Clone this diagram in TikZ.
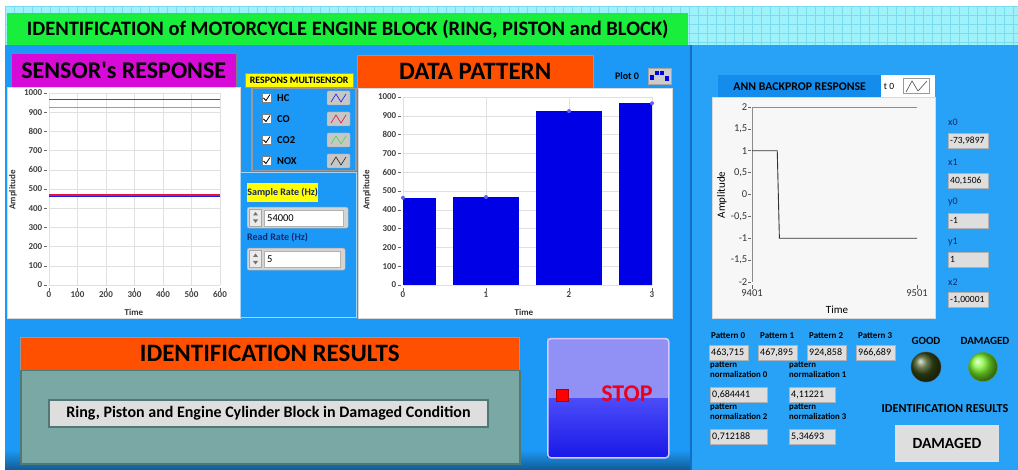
\documentclass[tikz,border=0pt]{standalone}
\usepackage{fontspec}
\setmainfont{Carlito}
\usetikzlibrary{positioning}

\definecolor{titlegreen}{RGB}{25,238,60}
\definecolor{cyanbg}{RGB}{160,242,250}
\definecolor{cyanline}{RGB}{120,220,238}
\definecolor{leftblue}{RGB}{28,152,246}
\definecolor{rightblue}{RGB}{40,162,246}
\definecolor{sepblue}{RGB}{20,110,200}
\definecolor{banmagenta}{RGB}{215,10,215}
\definecolor{banorange}{RGB}{255,80,0}
\definecolor{labyellow}{RGB}{255,255,0}
\definecolor{annblue}{RGB}{20,140,235}
\definecolor{barblue}{RGB}{0,0,230}
\definecolor{hcblue}{RGB}{30,30,230}
\definecolor{cored}{RGB}{230,20,60}
\definecolor{cogreen}{RGB}{60,225,60}
\definecolor{noxblack}{RGB}{40,40,40}
\definecolor{valgray}{RGB}{222,222,222}
\definecolor{teal}{RGB}{122,168,164}
\definecolor{tealedge}{RGB}{80,120,116}
\definecolor{stopupper}{RGB}{145,145,245}
\definecolor{stopmid}{RGB}{75,75,248}
\definecolor{stopdeep}{RGB}{25,25,232}
\definecolor{stopedge}{RGB}{215,200,250}
\definecolor{stopred}{RGB}{235,0,30}
\definecolor{ledoff}{RGB}{55,75,20}
\definecolor{ledon}{RGB}{120,240,40}
\definecolor{navy}{RGB}{20,40,110}

\newcommand{\fsz}[1]{\fontsize{#1}{#1}\selectfont}

\tikzset{
  banner/.style={anchor=north west, inner sep=0pt},
  gridln/.style={draw=black!12, line width=0.5pt},
  tickln/.style={draw=black!60, line width=0.5pt},
  ticklbl/.style={font=\fsz{9}\bfseries, text=black!75, inner sep=0.5pt},
  axislbl/.style={font=\fsz{9}\bfseries, text=black!80},
  valbox/.style={draw=black!30, fill=valgray, anchor=north west, inner xsep=2pt,
    inner ysep=0pt, minimum height=15pt, align=left, font=\fsz{10}},
  smalllbl/.style={anchor=west, inner sep=0pt, font=\fsz{9}\bfseries},
  chk/.style={draw=black!50, fill=white, minimum size=9pt, inner sep=0pt},
  icon/.style={draw=black!35, fill=black!22, minimum width=23pt, minimum height=14pt,
    inner sep=0pt, rounded corners=1pt},
  numframe/.style={draw=black!35, fill=black!17, anchor=north west, inner sep=0pt,
    rounded corners=2pt},
  spin/.style={draw=black!35, fill=black!8, minimum width=12pt, minimum height=17pt,
    inner sep=0pt},
  field/.style={draw=black!30, fill=white, anchor=north west, inner xsep=3pt,
    inner ysep=0pt, minimum height=16pt, align=left, font=\fsz{10.5}},
}

\begin{document}
\begin{tikzpicture}[x=1pt, y=-1pt]
    \useasboundingbox (0,0) rectangle (1018,470);
    \fill[white] (0,0) rectangle (1018,470);

    % Background panels
    \fill[cyanbg] (5,6) rectangle (1018,45);
    \foreach \gx in {5,14,...,1018} \draw[cyanline] (\gx,6) -- (\gx,45);
    \foreach \gy in {6,15,...,45} \draw[cyanline] (5,\gy) -- (1018,\gy);
    \fill[leftblue] (5,45) rectangle (690,470);
    \shade[top color=leftblue, bottom color=leftblue!60!black] (5,450) rectangle (690,470);
    \fill[rightblue] (692,45) rectangle (1018,470);
    \fill[sepblue] (690,45) rectangle (692,470);

    % Title
    \node[banner, fill=titlegreen, minimum width=681, minimum height=32,
      font=\fsz{20.5}\bfseries] (title) at (7,13)
      {IDENTIFICATION of MOTORCYCLE ENGINE BLOCK (RING, PISTON and BLOCK)};

    % Sensor response
    \node[banner, fill=banmagenta, draw=black!50, minimum width=225, minimum height=34,
      font=\fsz{24}\bfseries] (sensorhdr) at (11,53) {SENSOR\textquotesingle s RESPONSE};
    \node[banner, fill=white, draw=black!15, minimum width=233, minimum height=231]
      (sensorplot) at (7,87) {};
    \begin{scope}[shift={(49,285)}, x=0.285pt, y=0.192pt]
        \foreach \t in {0,100,...,600} {
            \draw[gridln] (\t,0) -- (\t,1000);
            \draw[tickln] ([yshift=-3pt]\t,0) -- ([yshift=-6pt]\t,0);
            \node[ticklbl, anchor=north] (sx\t) at ([yshift=-6pt]\t,0) {\t};
        }
        \foreach \v in {0,100,...,1000} {
            \draw[gridln] (0,\v) -- (600,\v);
            \draw[tickln] ([xshift=-5pt]0,\v) -- ([xshift=-2pt]0,\v);
            \node[ticklbl, anchor=east] (sy\v) at ([xshift=-6pt]0,\v) {\v};
        }
        \draw[hcblue, line width=1.5pt] (0,463.7) -- (600,463.7);
        \draw[cored, line width=1.5pt] (0,467.9) -- (600,467.9);
        \draw[cogreen, line width=1.5pt] (0,924.9) -- (600,924.9);
        \draw[noxblack!80, line width=1.5pt] (0,966.7) -- (600,966.7);
    \end{scope}
    \node[axislbl] (sensortime) at (134,312) {Time};
    \node[axislbl, rotate=90] (sensoramp) at (13,190) {Amplitude};

    % Multisensor legend
    \node[banner, fill=labyellow, draw=black!40, minimum width=108, minimum height=14,
      font=\fsz{9.8}\bfseries] (multilbl) at (245,73) {RESPONS MULTISENSOR};
    \node[banner, draw=black!40, line width=1.5pt, minimum width=104, minimum height=82]
      (legendbox) at (251,88) {};
    \foreach \nm/\yy/\cc in {HC/98/hcblue, CO/119/cored, CO2/140/cogreen, NOX/161/noxblack} {
        \node[chk] (chk\nm) at (266.5,\yy) {};
        \draw[line width=0.8pt] (263.5,\yy) -- (266,\yy+2.5) -- (270,\yy-3.5);
        \node[anchor=west, inner sep=0pt, font=\fsz{10.5}\bfseries] (lg\nm) at (277,\yy) {\nm};
        \node[icon] (ic\nm) at (338.5,\yy) {};
        \draw[\cc, line width=0.6pt] (331,\yy+4) -- (336,\yy-4) -- (341,\yy+4) -- (346,\yy-4);
    }

    % Sample and read rate
    \draw[white!60!leftblue, line width=1pt] (240,173) rectangle (356,318);
    \node[banner, fill=labyellow, minimum width=71, minimum height=19,
      font=\fsz{10}\bfseries, text=navy] (samplelbl) at (247,183) {Sample Rate (Hz)};
    \node[numframe, minimum width=101, minimum height=21] (samplectl) at (247,207) {};
    \node[spin] (samplespin) at (255.5,217.5) {};
    \fill[black!55] (253,215.5) -- (258,215.5) -- (255.5,212) -- cycle;
    \fill[black!55] (253,219.5) -- (258,219.5) -- (255.5,223) -- cycle;
    \node[field, text width=73] (samplefld) at (264,210) {54000};
    \node[smalllbl, font=\fsz{10}\bfseries, text=navy] (readlbl) at (247,238) {Read Rate (Hz)};
    \node[numframe, minimum width=98, minimum height=22] (readctl) at (247,248) {};
    \node[spin] (readspin) at (255.5,259) {};
    \fill[black!55] (253,257) -- (258,257) -- (255.5,253.5) -- cycle;
    \fill[black!55] (253,261) -- (258,261) -- (255.5,264.5) -- cycle;
    \node[field, text width=70] (readfld) at (264,251) {5};

    % Data pattern
    \node[banner, fill=banorange, draw=black!40, minimum width=236, minimum height=33,
      font=\fsz{25}\bfseries] (patternhdr) at (357,55) {DATA PATTERN};
    \node[font=\fsz{10}\bfseries] (plotlbl) at (627,76) {Plot 0};
    \node[banner, draw=black!35, fill=black!20, minimum width=23, minimum height=16]
      (ploticon) at (648,68) {};
    \fill[barblue] (650,75) rectangle (654,80);
    \fill[barblue] (655,71) rectangle (659,75);
    \fill[barblue] (660,71) rectangle (664,75);
    \fill[barblue] (665,76) rectangle (669,81);
    \node[banner, fill=white, draw=black!15, minimum width=314, minimum height=230]
      (patternplot) at (358,88) {};
    \begin{scope}[shift={(403,285)}, x=83pt, y=0.188pt]
        \foreach \v in {0,100,...,1000} {
            \draw[gridln] (0,\v) -- (3,\v);
            \draw[tickln] ([xshift=-5pt]0,\v) -- ([xshift=-2pt]0,\v);
            \node[ticklbl, anchor=east] (py\v) at ([xshift=-6pt]0,\v) {\v};
        }
        \foreach \t in {0,...,3} {
            \draw[gridln] (\t,0) -- (\t,1000);
            \draw[tickln] ([yshift=-3pt]\t,0) -- ([yshift=-6pt]\t,0);
            \node[ticklbl, anchor=north] (px\t) at ([yshift=-6pt]\t,0) {\t};
        }
        \fill[barblue] (0,0) rectangle (0.4,463.7);
        \fill[barblue] (0.6,0) rectangle (1.4,467.9);
        \fill[barblue] (1.6,0) rectangle (2.4,924.9);
        \fill[barblue] (2.6,0) rectangle (3,966.7);
        \foreach \t/\v in {0/463.7, 1/467.9, 2/924.9, 3/966.7}
            \fill[hcblue!70] (\t,\v) circle[radius=2pt];
    \end{scope}
    \node[axislbl] (patterntime) at (524,312) {Time};
    \node[axislbl, rotate=90] (patternamp) at (367,190) {Amplitude};

    % ANN response
    \node[banner, fill=black!3, draw=black!15, minimum width=223, minimum height=221]
      (annplot) at (712,97) {};
    \node[banner, fill=annblue, minimum width=163, minimum height=22,
      font=\fsz{11.8}\bfseries] (annhdr) at (718,75) {ANN BACKPROP RESPONSE};
    \node[banner, fill=white, minimum width=54, minimum height=22] (annleg) at (881,75) {};
    \node[font=\fsz{9.5}, inner sep=0pt] (annlegtxt) at (889,86) {t 0};
    \node[banner, draw=black!40, fill=white, minimum width=26, minimum height=15]
      (annicon) at (903,78) {};
    \draw[black!70, line width=0.6pt] (906,92) -- (912,81) -- (918,91) -- (927,81);
    \begin{scope}[shift={(752,194.5)}, x=1.65pt, y=43.75pt]
        \draw[black!45] (0,-2) -- (0,2) -- (100,2);
        \foreach \v/\l [count=\k] in {2/2, 1.5/{1,5}, 1/1, 0.5/{0,5}, 0/0, -0.5/{-0,5},
                                      -1/-1, -1.5/{-1,5}, -2/-2} {
            \draw[tickln] ([xshift=-4pt]0,\v) -- ([xshift=-1pt]0,\v);
            \node[anchor=east, inner sep=0.5pt, font=\fsz{10.5}, text=black!80] (ay\k)
              at ([xshift=-4pt]0,\v) {\l};
        }
        \foreach \t/\l in {0/9401, 100/9501} {
            \draw[tickln] ([yshift=-3pt]\t,-2) -- ([yshift=-7pt]\t,-2);
            \node[anchor=north, inner sep=0.5pt, font=\fsz{10.5}, text=black!80] (ax\l)
              at ([yshift=-7pt]\t,-2) {\l};
        }
        \draw[black!80, line width=0.9pt] (0,1) -- (15.3,1) -- (16.6,-1) -- (100,-1);
    \end{scope}
    \node[font=\fsz{11}] (anntime) at (837,310) {Time};
    \node[font=\fsz{11}, rotate=90] (annamp) at (722,195) {Amplitude};

    % Network values
    \foreach \nm/\ly/\by/\val in {x0/122/133/{-73,9897}, x1/162/173/{40,1506},
                                 y0/202/213/{-1}, y1/242/252/{1}, x2/282/292/{-1,00001}} {
        \node[smalllbl, font=\fsz{10}, text=navy] (lbl\nm) at (948,\ly) {\nm};
        \node[valbox, text width=36, font=\fsz{9.5}] (val\nm) at (948,\by) {\val};
    }

    % Patterns and normalization
    \foreach \i/\px/\val in {0/709/{463,715}, 1/758/{467,895}, 2/807/{924,858}, 3/856/{966,689}} {
        \node[smalllbl] (plbl\i) at (\px+2,336) {Pattern \i};
        \node[valbox, text width=35] (pval\i) at (\px,345) {\val};
    }
    \foreach \i/\px/\py/\w/\val in {0/710/362/53/{0,684441}, 1/789/362/42/{4,11221},
                                   2/710/404/53/{0,712188}, 3/789/404/42/{5,34693}} {
        \node[anchor=north west, inner sep=0pt, align=left, font=\fsz{8.8}\bfseries]
          (nlbl\i) at (\px,\py) {pattern\\[1pt]normalization \i};
        \node[valbox, text width=\w] (nval\i) at (\px,\py+25) {\val};
    }

    % Indicators
    \node[font=\fsz{11}\bfseries] (goodlbl) at (926,341) {GOOD};
    \node[font=\fsz{11}\bfseries] (damlbl) at (985,341) {DAMAGED};
    \node[circle, minimum size=30, inner sep=0pt, ball color=ledoff, draw=black!70]
      (goodled) at (926,367) {};
    \node[circle, minimum size=29, inner sep=0pt, ball color=ledon, draw=ledon!70!black]
      (damled) at (983,367) {};
    \node[font=\fsz{12.2}\bfseries] (identlbl) at (945,409) {IDENTIFICATION RESULTS};
    \node[banner, fill=valgray, draw=black!12, line width=2pt, minimum width=102,
      minimum height=35, font=\fsz{15.5}\bfseries] (identval) at (895,425) {DAMAGED};

    % Identification results
    \node[banner, fill=banorange, draw=black!40, minimum width=499, minimum height=33,
      font=\fsz{25}\bfseries] (resulthdr) at (20,337) {IDENTIFICATION RESULTS};
    \node[banner, fill=teal, draw=tealedge, line width=1.5pt, minimum width=499,
      minimum height=93] (resultpanel) at (20,370) {};
    \node[banner, fill=valgray, draw=tealedge, line width=2pt, minimum width=439,
      minimum height=27, font=\fsz{16}\bfseries] (resultval) at (48,399)
      {Ring, Piston and Engine Cylinder Block in Damaged Condition};

    % Stop button
    \fill[stopupper] (547,338) rectangle (668,399);
    \shade[top color=stopmid, bottom color=stopdeep] (547,399) rectangle (668,457);
    \node[banner, draw=stopedge, line width=1.5pt, rounded corners=3pt, minimum width=121,
      minimum height=119] (stopbtn) at (547,338) {};
    \node[fill=red, draw=red!70!black, minimum size=12, inner sep=0pt] (stopled) at (562,395.5) {};
    \node[font=\fsz{24}\bfseries, text=stopred] (stoptxt) at (627,394) {STOP};
\end{tikzpicture}
\end{document}
